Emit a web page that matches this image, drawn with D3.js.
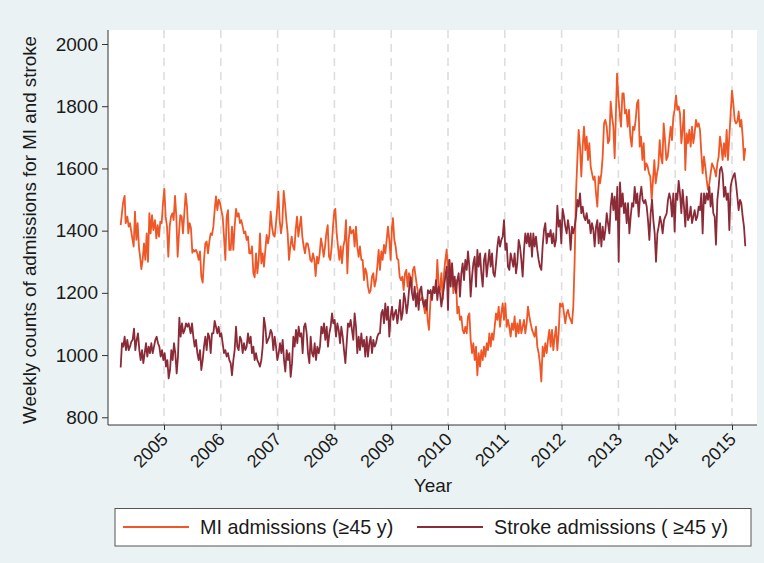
<!DOCTYPE html>
<html><head><meta charset="utf-8">
<script src="https://cdn.jsdelivr.net/npm/d3@7"></script>
<style>
body{margin:0;background:#eaf2f3}
svg{display:block}
text{font-family:"Liberation Sans",Arial,sans-serif;fill:#1a1a1a}
</style>
</head><body>
<svg id="c" width="764" height="563"></svg>
<script>
const yearTicks = [2005,2006,2007,2008,2009,2010,2011,2012,2013,2014,2015];
const countTicks = [800,1000,1200,1400,1600,1800,2000];
const seriesNames = ["MI admissions (\u226545 y)", "Stroke admissions ( \u226545 y)"];

const miYears = [2004.237,2004.278,2004.307,2004.325,2004.354,2004.378,2004.401,2004.437,2004.466,2004.489,2004.513,2004.536,2004.56,2004.583,2004.601,2004.624,2004.648,2004.671,2004.695,2004.718,2004.742,2004.765,2004.789,2004.812,2004.841,2004.865,2004.888,2004.912,2004.935,2004.959,2004.982,2005.006,2005.029,2005.053,2005.076,2005.1,2005.123,2005.147,2005.17,2005.194,2005.217,2005.24,2005.264,2005.287,2005.311,2005.334,2005.358,2005.381,2005.405,2005.428,2005.452,2005.475,2005.499,
2005.516,2005.54,2005.563,2005.587,2005.61,2005.634,2005.657,2005.681,2005.704,2005.728,2005.751,2005.775,2005.798,2005.822,2005.845,2005.869,2005.892,2005.915,2005.939,2005.962,2005.986,2006.009,2006.033,2006.056,2006.08,2006.103,2006.127,2006.15,2006.174,2006.197,2006.221,2006.244,2006.268,2006.291,2006.314,2006.338,2006.361,2006.385,2006.408,2006.432,2006.455,2006.479,2006.502,2006.526,2006.549,2006.573,2006.596,2006.62,2006.643,2006.667,2006.69,2006.714,2006.737,2006.76,2006.784,2006.807,2006.831,2006.854,
2006.878,2006.901,2006.925,2006.948,2006.972,2006.995,2007.013,2007.036,2007.06,2007.083,2007.107,2007.13,2007.154,2007.177,2007.201,2007.224,2007.248,2007.271,2007.295,2007.318,2007.342,2007.365,2007.388,2007.412,2007.435,2007.459,2007.482,2007.506,2007.529,2007.553,2007.576,2007.6,2007.623,2007.647,2007.67,2007.694,2007.717,2007.741,2007.764,2007.788,2007.811,2007.835,2007.858,2007.882,2007.905,2007.928,2007.952,2007.975,2007.999,2008.016,2008.04,2008.063,2008.087,2008.11,2008.134,2008.157,2008.181,2008.204,2008.228,2008.251,2008.275,2008.298,
2008.333,2008.356,2008.38,2008.403,2008.427,2008.45,2008.474,2008.497,2008.521,2008.544,2008.568,2008.591,2008.615,2008.638,2008.662,2008.685,2008.708,2008.732,2008.755,2008.779,2008.802,2008.826,2008.849,2008.873,2008.896,2008.92,2008.943,2008.967,2008.99,2009.014,2009.031,2009.055,2009.078,2009.102,2009.125,2009.149,2009.172,2009.196,2009.219,2009.243,2009.266,2009.289,2009.313,2009.336,2009.36,2009.383,2009.407,2009.43,2009.454,2009.477,2009.501,2009.524,2009.548,2009.571,2009.595,2009.618,2009.642,2009.665,
2009.695,2009.718,2009.742,2009.765,2009.789,2009.812,2009.836,2009.859,2009.883,2009.906,2009.93,2009.953,2009.977,2010.0,2010.024,2010.047,2010.071,2010.094,2010.117,2010.141,2010.164,2010.188,2010.211,2010.235,2010.258,2010.282,2010.305,2010.329,2010.352,2010.376,2010.399,2010.423,2010.446,2010.47,2010.493,2010.517,2010.54,2010.564,2010.587,2010.611,2010.634,2010.658,2010.681,2010.704,2010.728,2010.751,2010.775,2010.798,2010.822,2010.845,2010.869,2010.892,2010.916,2010.939,2010.963,2010.986,2011.01,2011.033,2011.056,
2011.079,2011.103,2011.126,2011.15,2011.173,2011.197,2011.22,2011.244,2011.267,2011.291,2011.314,2011.338,2011.361,2011.385,2011.408,2011.432,2011.455,2011.479,2011.502,2011.525,2011.549,2011.572,2011.596,2011.619,2011.643,2011.666,2011.69,2011.713,2011.737,2011.76,2011.784,2011.807,2011.831,2011.854,2011.878,2011.901,2011.925,2011.948,2011.972,2011.995,2012.018,2012.042,2012.065,2012.089,2012.112,2012.136,2012.159,2012.183,2012.206,2012.23,2012.253,2012.277,2012.3,2012.324,2012.347,2012.371,2012.394,2012.418,2012.441,2012.465,2012.488,2012.512,
2012.535,2012.559,2012.582,2012.606,2012.629,2012.653,2012.676,2012.7,2012.723,2012.747,2012.77,2012.794,2012.817,2012.841,2012.864,2012.888,2012.911,2012.934,2012.958,2012.976,2012.999,2013.023,2013.046,2013.07,2013.093,2013.116,2013.14,2013.163,2013.187,2013.21,2013.234,2013.257,2013.281,2013.304,2013.328,2013.351,2013.375,2013.398,2013.422,2013.445,2013.468,2013.492,2013.515,2013.539,2013.562,2013.586,2013.609,2013.633,2013.656,2013.68,2013.703,2013.727,2013.75,2013.774,2013.797,2013.821,2013.844,2013.868,2013.891,
2013.92,2013.943,2013.967,2013.99,2014.014,2014.037,2014.061,2014.084,2014.108,2014.131,2014.155,2014.178,2014.202,2014.225,2014.249,2014.272,2014.296,2014.319,2014.342,2014.366,2014.389,2014.413,2014.436,2014.46,2014.483,2014.507,2014.53,2014.554,2014.577,2014.601,2014.624,2014.648,2014.671,2014.695,2014.718,2014.742,2014.765,2014.788,2014.812,2014.835,2014.859,2014.882,2014.906,2014.929,2014.953,2014.976,2015.0,2015.023,2015.047,2015.07,2015.094,2015.117,2015.141,2015.164,2015.188,2015.211,2015.234];
const miCounts = [1418,1488,1512,1424,1445,1413,1424,1381,1349,1461,1370,1424,1343,1311,1276,1306,1359,1306,1391,1300,1456,1391,1450,1402,1434,1375,1418,1381,1429,1424,1488,1534,1445,1413,1316,1413,1445,1456,1434,1512,1445,1316,1391,1450,1445,1391,1456,1519,1477,1391,1424,1408,1329,
1338,1333,1338,1327,1306,1333,1252,1233,1306,1359,1365,1327,1365,1391,1386,1413,1466,1510,1466,1500,1488,1466,1445,1381,1306,1445,1466,1338,1338,1413,1338,1413,1470,1445,1456,1424,1434,1413,1391,1397,1370,1381,1327,1327,1349,1263,1250,1327,1263,1306,1391,1295,1327,1284,1338,1386,1359,1386,
1461,1413,1386,1381,1424,1477,1525,1434,1391,1424,1528,1488,1434,1391,1306,1349,1381,1349,1338,1402,1445,1381,1413,1445,1381,1349,1327,1359,1359,1338,1306,1300,1327,1306,1254,1316,1295,1327,1375,1349,1316,1349,1391,1418,1316,1306,1349,1413,1465,1470,1391,1349,1306,1349,1295,1349,1370,1434,1263,1370,1413,1391,
1402,1349,1413,1349,1316,1349,1306,1306,1241,1279,1263,1220,1199,1209,1252,1263,1220,1241,1284,1338,1274,1333,1306,1354,1327,1370,1413,1370,1306,1413,1440,1370,1349,1311,1306,1252,1241,1252,1209,1263,1274,1220,1263,1252,1209,1274,1284,1252,1220,1199,1177,1177,1188,1161,1134,1177,1113,1081,
1188,1199,1209,1199,1209,1306,1220,1209,1263,1177,1263,1306,1340,1263,1306,1252,1295,1199,1220,1241,1134,1156,1113,1124,1081,1070,1091,1070,1124,1134,1049,1006,1038,984,1027,935,1006,963,1016,984,1027,995,1038,1016,1070,1027,1070,1049,1091,1134,1113,1156,1091,1134,1166,1113,1166,1091,1113,
1091,1059,1102,1081,1124,1059,1102,1070,1113,1070,1091,1113,1070,1102,1156,1124,1102,1081,1070,1059,1091,1027,1006,973,915,1027,995,1038,1006,1049,1081,1027,1081,1016,1059,1091,1016,1070,1166,1156,1166,1134,1102,1134,1145,1124,1113,1102,1156,1306,1520,1627,1724,1670,1574,1670,1734,1659,1702,1627,1681,1606,
1584,1563,1574,1520,1477,1574,1552,1584,1638,1745,1756,1734,1681,1691,1815,1766,1734,1633,1788,1905,1831,1777,1734,1841,1841,1777,1788,1734,1788,1702,1670,1734,1724,1756,1809,1820,1670,1702,1627,1681,1595,1616,1606,1584,1574,1499,1563,1627,1552,1584,1606,1691,1638,1616,1745,1691,1627,1638,1681,
1734,1691,1766,1788,1835,1788,1799,1777,1681,1724,1788,1595,1713,1681,1724,1670,1734,1681,1713,1756,1734,1745,1724,1649,1584,1638,1606,1563,1531,1552,1584,1616,1606,1595,1574,1616,1638,1702,1670,1627,1681,1638,1724,1627,1702,1777,1850,1809,1756,1745,1750,1783,1734,1756,1702,1627,1665];

const strokeYears = [2004.237,2004.26,2004.284,2004.307,2004.331,2004.354,2004.378,2004.401,2004.425,2004.448,2004.472,2004.495,2004.519,2004.542,2004.566,2004.589,2004.613,2004.636,2004.66,2004.683,2004.706,2004.73,2004.753,2004.777,2004.8,2004.824,2004.847,2004.871,2004.894,2004.918,2004.941,2004.965,2004.988,2005.012,2005.035,2005.059,2005.082,2005.106,2005.129,2005.153,2005.176,2005.199,2005.223,2005.246,2005.27,2005.293,2005.317,2005.34,2005.364,2005.387,2005.411,2005.434,
2005.469,2005.493,2005.516,2005.54,2005.563,2005.587,2005.61,2005.634,2005.657,2005.681,2005.704,2005.728,2005.751,2005.775,2005.798,2005.822,2005.845,2005.869,2005.892,2005.915,2005.939,2005.962,2005.986,2006.009,2006.033,2006.056,2006.08,2006.103,2006.127,2006.15,2006.174,2006.197,2006.221,2006.244,2006.268,2006.291,2006.314,2006.338,2006.361,2006.385,2006.408,2006.432,2006.455,2006.479,2006.502,2006.526,2006.549,2006.573,2006.596,2006.62,2006.643,2006.667,2006.69,2006.714,2006.737,2006.76,2006.784,2006.807,2006.831,2006.854,
2006.878,2006.901,2006.925,2006.948,2006.972,2006.995,2007.019,2007.042,2007.066,2007.089,2007.113,2007.136,2007.16,2007.183,2007.207,2007.23,2007.254,2007.277,2007.3,2007.324,2007.347,2007.371,2007.394,2007.418,2007.441,2007.465,2007.488,2007.512,2007.535,2007.559,2007.582,2007.606,2007.629,2007.653,2007.676,2007.7,2007.723,2007.746,2007.77,2007.793,2007.817,2007.84,2007.864,2007.887,2007.911,2007.934,2007.958,2007.981,2008.005,2008.028,2008.052,2008.075,2008.099,2008.122,2008.146,2008.169,2008.193,2008.216,2008.239,2008.263,2008.286,
2008.309,2008.333,2008.356,2008.38,2008.403,2008.427,2008.45,2008.474,2008.497,2008.521,2008.544,2008.568,2008.591,2008.615,2008.638,2008.662,2008.685,2008.708,2008.732,2008.755,2008.779,2008.802,2008.826,2008.849,2008.873,2008.896,2008.92,2008.943,2008.967,2008.99,2009.014,2009.037,2009.061,2009.084,2009.108,2009.131,2009.155,2009.178,2009.201,2009.225,2009.248,2009.272,2009.295,2009.319,2009.342,2009.366,2009.389,2009.413,2009.436,2009.46,2009.483,2009.507,2009.53,2009.553,2009.577,2009.6,2009.624,2009.647,
2009.671,2009.695,2009.718,2009.742,2009.765,2009.789,2009.812,2009.836,2009.859,2009.883,2009.906,2009.93,2009.953,2009.977,2010.0,2010.024,2010.047,2010.071,2010.094,2010.117,2010.141,2010.164,2010.188,2010.211,2010.235,2010.258,2010.282,2010.305,2010.329,2010.352,2010.376,2010.399,2010.423,2010.446,2010.47,2010.493,2010.517,2010.54,2010.564,2010.587,2010.611,2010.634,2010.658,2010.681,2010.704,2010.728,2010.751,2010.775,2010.798,2010.822,2010.845,2010.869,2010.892,2010.916,2010.939,2010.963,2010.986,2011.01,2011.033,2011.056,2011.08,
2011.103,2011.126,2011.15,2011.173,2011.197,2011.22,2011.244,2011.267,2011.291,2011.314,2011.338,2011.361,2011.385,2011.408,2011.432,2011.455,2011.479,2011.502,2011.525,2011.549,2011.572,2011.596,2011.619,2011.643,2011.666,2011.69,2011.713,2011.737,2011.76,2011.784,2011.807,2011.831,2011.854,2011.878,2011.901,2011.925,2011.948,2011.972,2011.995,2012.018,2012.042,2012.065,2012.089,2012.112,2012.136,2012.159,2012.183,2012.206,2012.23,2012.253,2012.277,2012.3,2012.324,2012.347,2012.371,2012.394,2012.418,2012.441,2012.465,
2012.488,2012.512,2012.535,2012.559,2012.582,2012.606,2012.629,2012.653,2012.676,2012.7,2012.723,2012.747,2012.77,2012.794,2012.817,2012.841,2012.864,2012.888,2012.911,2012.934,2012.958,2012.981,2013.005,2013.028,2013.052,2013.075,2013.099,2013.122,2013.146,2013.169,2013.193,2013.216,2013.24,2013.263,2013.287,2013.31,2013.333,2013.357,2013.38,2013.404,2013.427,2013.451,2013.474,2013.498,2013.521,2013.545,2013.568,2013.592,2013.615,2013.639,2013.662,2013.686,2013.709,2013.733,2013.756,2013.779,2013.803,2013.826,2013.85,2013.873,
2013.896,2013.92,2013.943,2013.967,2013.99,2014.014,2014.037,2014.061,2014.084,2014.108,2014.131,2014.155,2014.178,2014.202,2014.225,2014.249,2014.272,2014.296,2014.319,2014.342,2014.366,2014.389,2014.413,2014.436,2014.46,2014.483,2014.507,2014.53,2014.554,2014.577,2014.601,2014.624,2014.648,2014.671,2014.695,2014.718,2014.742,2014.765,2014.788,2014.812,2014.835,2014.859,2014.882,2014.906,2014.929,2014.953,2014.976,2015.0,2015.023,2015.047,2015.07,2015.094,2015.117,2015.141,2015.164,2015.188,2015.211,2015.234];
const strokeCounts = [960,1038,1027,1059,1016,1049,1016,1027,1043,1049,1085,1016,1049,1070,1016,984,1016,974,1006,1038,995,1027,1006,1038,1006,1027,1049,1059,1038,1027,995,1016,984,1006,963,984,925,952,1016,984,1038,1006,941,995,1120,1059,1102,1070,1081,1102,1091,1102,
1070,1102,1059,1027,1049,1006,984,1016,952,984,1027,1059,1016,1070,1059,1006,1070,1070,1110,1091,1070,1091,1059,1070,1038,1006,1016,995,1006,984,974,935,984,1016,1091,1027,1016,1059,1049,1006,1038,1016,1027,1070,1038,1059,1006,1027,984,1006,984,974,963,984,1027,1120,1091,1038,1049,1059,
1081,1070,1016,1059,1027,984,1006,1038,1006,1049,984,947,1016,984,1006,930,974,1059,1027,1081,1038,1091,1059,1070,1006,1091,1102,1070,1006,974,1059,1006,995,1038,984,1027,1006,1027,1091,1070,1102,1049,1091,1027,1070,1091,1134,1102,1113,1059,1102,1081,1038,1091,1059,1016,974,1038,1102,1091,1113,
1081,1049,1134,1091,1006,1059,1016,1070,1027,1049,995,1059,995,1038,1059,1006,1049,1027,1038,1059,1070,1070,1134,1145,1102,1166,1113,1156,1059,1124,1156,1113,1134,1145,1102,1134,1177,1113,1134,1199,1177,1134,1166,1220,1250,1199,1177,1220,1156,1199,1145,1209,1220,1177,1156,1177,1145,1209,
1199,1209,1177,1220,1199,1241,1177,1220,1199,1156,1188,1220,1252,1284,1145,1306,1220,1295,1220,1252,1199,1241,1263,1188,1263,1295,1241,1306,1274,1333,1284,1188,1252,1295,1316,1220,1338,1284,1327,1263,1220,1306,1327,1252,1295,1338,1284,1327,1263,1252,1295,1349,1381,1349,1370,1381,1434,1338,1359,1284,1274,
1327,1306,1284,1327,1263,1295,1370,1349,1306,1252,1338,1391,1359,1391,1349,1391,1316,1391,1349,1381,1338,1306,1284,1274,1349,1402,1424,1359,1391,1381,1402,1359,1391,1349,1370,1480,1413,1434,1359,1470,1445,1413,1391,1434,1402,1338,1413,1391,1413,1445,1499,1477,1520,1456,1477,1445,1434,1456,1424,
1434,1391,1424,1402,1349,1413,1434,1359,1424,1349,1413,1370,1402,1456,1424,1391,1477,1520,1466,1509,1434,1541,1300,1555,1477,1520,1456,1488,1424,1488,1391,1445,1488,1477,1541,1488,1520,1445,1509,1541,1499,1488,1499,1477,1434,1370,1456,1499,1434,1391,1300,1391,1413,1445,1424,1391,1434,1445,1456,1499,
1520,1499,1445,1520,1397,1520,1499,1560,1520,1456,1531,1477,1413,1509,1434,1445,1477,1424,1445,1466,1434,1445,1477,1466,1520,1391,1520,1488,1520,1499,1541,1477,1520,1456,1445,1355,1499,1541,1595,1605,1584,1509,1541,1499,1520,1402,1541,1563,1575,1585,1552,1509,1466,1499,1488,1445,1413,1350];

const W = 764, H = 563;
const P = {left:108, right:757, top:30, bottom:425};
const svg = d3.select("#c");
const FONT = "Liberation Sans, Arial, sans-serif";

svg.append("rect").attr("width",W).attr("height",H).attr("fill","#eaf2f3");
svg.append("rect").attr("x",P.left).attr("y",P.top).attr("width",P.right-P.left).attr("height",P.bottom-P.top).attr("fill","#ffffff");

const x = d3.scaleLinear().domain([2004.014, 2015.44]).range([P.left, P.right]);
const y = d3.scaleLinear().domain([775.2, 2045]).range([P.bottom, P.top]);

// vertical dashed grid lines
svg.append("g").selectAll("line").data(yearTicks).join("line")
  .attr("x1",d=>x(d)).attr("x2",d=>x(d)).attr("y1",P.top).attr("y2",P.bottom)
  .attr("stroke","#dedede").attr("stroke-width",1.6).attr("stroke-dasharray","8,6");

const line = d3.line().x(d=>x(d[0])).y(d=>y(d[1]));
const strokeData = strokeYears.map((t,i)=>[t, strokeCounts[i]]);
const miData = miYears.map((t,i)=>[t, miCounts[i]]);
const miColor = "#ef5727", strokeColor = "#8c2b38";

svg.append("path").datum(miData).attr("d",line).attr("fill","none")
  .attr("stroke",miColor).attr("stroke-width",1.8).attr("stroke-linejoin","round");
svg.append("path").datum(strokeData).attr("d",line).attr("fill","none")
  .attr("stroke",strokeColor).attr("stroke-width",1.8).attr("stroke-linejoin","round");

// y axis
const yAxis = svg.append("g").attr("transform",`translate(${P.left},0)`)
  .call(d3.axisLeft(y).tickValues(countTicks).tickSize(6).tickPadding(4).tickFormat(d3.format("d")));
yAxis.select(".domain").attr("d",`M0,${P.top}V${P.bottom}`).attr("stroke","#333");
yAxis.selectAll(".tick line").attr("stroke","#333");
yAxis.selectAll(".tick text").attr("font-size",19).attr("fill","#1a1a1a").attr("font-family",FONT);

// x axis
const xAxis = svg.append("g").attr("transform",`translate(0,${P.bottom})`)
  .call(d3.axisBottom(x).tickValues(yearTicks).tickSize(5).tickFormat(d3.format("d")));
xAxis.select(".domain").attr("d",`M${P.left},0H${P.right}`).attr("stroke","#333");
xAxis.selectAll(".tick line").attr("stroke","#333");
xAxis.selectAll(".tick text")
  .attr("font-size",18).attr("fill","#1a1a1a").attr("font-family",FONT)
  .attr("text-anchor","end").attr("x",0).attr("y",0).attr("dy","0.35em")
  .attr("transform","translate(0,11) rotate(-45)");

// axis titles
svg.append("text").attr("x",433).attr("y",492).attr("text-anchor","middle")
  .attr("font-size",19).text("Year");
svg.append("text").attr("transform","translate(36,230) rotate(-90)").attr("text-anchor","middle")
  .attr("font-size",18.8).text("Weekly counts of admissions for MI and stroke");

// legend
const lg = svg.append("g");
lg.append("rect").attr("x",115).attr("y",508.5).attr("width",636).attr("height",37.5)
  .attr("fill","#fff").attr("stroke","#555").attr("stroke-width",1);
const items = [{name:seriesNames[0], color:miColor, x0:123}, {name:seriesNames[1], color:strokeColor, x0:417}];
items.forEach(it=>{
  lg.append("line").attr("x1",it.x0).attr("x2",it.x0+66).attr("y1",527).attr("y2",527)
    .attr("stroke",it.color).attr("stroke-width",1.8);
  lg.append("text").attr("x",it.x0+77).attr("y",534).attr("font-size",19.8).text(it.name);
});
</script>
</body></html>
